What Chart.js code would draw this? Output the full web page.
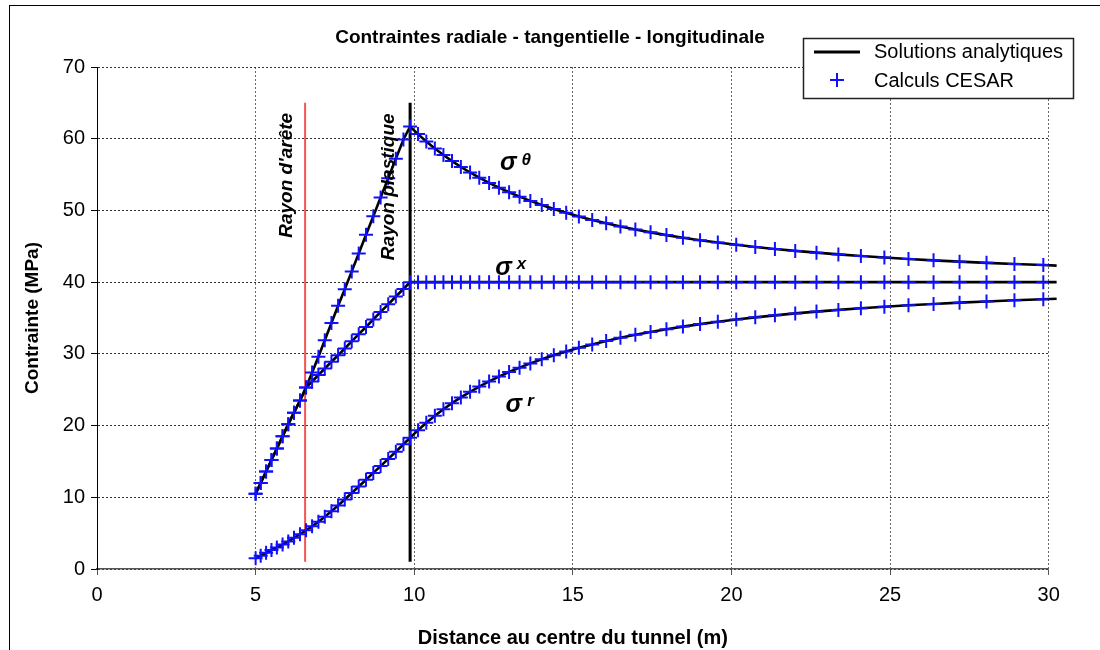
<!DOCTYPE html>
<html lang="fr">
<head>
<meta charset="utf-8">
<title>Contraintes radiale - tangentielle - longitudinale</title>
<script src="https://cdn.jsdelivr.net/npm/chart.js@4.4.1/dist/chart.umd.min.js"></script>
<style>
  html, body { margin: 0; padding: 0; background: #fff; }
  canvas { display: block; }
</style>
</head>
<body>
<canvas id="stressChart" width="1100" height="650"></canvas>
<script>
const FONT = "'Liberation Sans', Arial, sans-serif";

const CHART_TITLE = "Contraintes radiale - tangentielle - longitudinale";
const X_TITLE = "Distance au centre du tunnel (m)";
const Y_TITLE = "Contrainte (MPa)";
const LEGEND_LABELS = ["Solutions analytiques", "Calculs CESAR"];

// distance au centre (m) of the CESAR result points
const distance = [
  5.0, 5.16, 5.33, 5.5, 5.67, 5.85, 6.03, 6.21, 6.4, 6.59, 6.78, 6.98, 7.18,
  7.39, 7.6, 7.81, 8.03, 8.25, 8.48, 8.71, 8.94, 9.18, 9.42, 9.66, 9.87,
  10.12, 10.38, 10.65, 10.92, 11.19, 11.47, 11.76, 12.05, 12.36, 12.67, 12.99,
  13.32, 13.66, 14.02, 14.4, 14.79, 15.19, 15.61, 16.05, 16.5, 16.97, 17.45,
  17.95, 18.47, 19.01, 19.57, 20.15, 20.75, 21.37, 22.01, 22.68, 23.37, 24.08,
  24.82, 25.58, 26.37, 27.19, 28.04, 28.92, 29.83
];

// radial stress sigma r (MPa)
const sigmaR = [
  1.5, 1.85, 2.25, 2.65, 3.0, 3.4, 3.85, 4.35, 4.85, 5.4, 5.95, 6.6, 7.3,
  8.05, 8.85, 9.7, 10.6, 11.5, 12.45, 13.4, 14.35, 15.35, 16.35, 17.4, 18.3,
  19.36, 20.38, 21.36, 22.27, 23.12, 23.93, 24.71, 25.44, 26.16, 26.83, 27.47,
  28.08, 28.67, 29.25, 29.81, 30.34, 30.84, 31.32, 31.79, 32.24, 32.66, 33.06,
  33.44, 33.8, 34.15, 34.48, 34.79, 35.09, 35.37, 35.64, 35.89, 36.13, 36.35,
  36.57, 36.77, 36.96, 37.14, 37.31, 37.47, 37.62
];

// tangential stress sigma theta (MPa)
const sigmaTheta = [
  10.5, 12.0, 13.6, 15.2, 16.8, 18.5, 20.2, 21.8, 23.5, 25.3, 27.4, 29.6, 31.9,
  34.3, 36.7, 39.0, 41.5, 44.0, 46.6, 49.2, 51.8, 54.5, 57.2, 59.9, 61.7,
  60.64, 59.62, 58.64, 57.73, 56.88, 56.07, 55.29, 54.56, 53.84, 53.17, 52.53,
  51.92, 51.33, 50.75, 50.19, 49.66, 49.16, 48.68, 48.21, 47.76, 47.34, 46.94,
  46.56, 46.2, 45.85, 45.52, 45.21, 44.91, 44.63, 44.36, 44.11, 43.87, 43.65,
  43.43, 43.23, 43.04, 42.86, 42.69, 42.53, 42.38
];

// longitudinal stress sigma x (MPa)
const sigmaX = [
  10.5, 12.0, 13.6, 15.2, 16.8, 18.5, 20.2, 21.8, 23.5, 25.3, 26.15, 27.05, 27.95,
  28.9, 29.8, 30.75, 31.75, 32.75, 33.75, 34.8, 35.85, 36.9, 38.0, 39.05, 40.0,
  40, 40, 40, 40, 40, 40, 40, 40, 40, 40, 40,
  40, 40, 40, 40, 40, 40, 40, 40, 40, 40, 40,
  40, 40, 40, 40, 40, 40, 40, 40, 40, 40, 40,
  40, 40, 40, 40, 40, 40, 40
];

// the analytic curves run a little past the last mesh point
const lineEnd = { distance: 30.25, sigmaR: 37.69, sigmaTheta: 42.31, sigmaX: 40 };

// rayon d'arête and rayon plastique (m), with the span of their marker lines (MPa)
const edgeRadius = 6.56;
const plasticRadius = 9.87;
const radiusSpan = [1, 65];

const xTicks = [0, 5, 10, 15, 20, 25, 30];
const yTicks = [0, 10, 20, 30, 40, 50, 60, 70];

function toPoints(xs, ys) {
  return xs.map((x, i) => ({ x, y: ys[i] }));
}

function analyticLine(values, endValue) {
  return {
    label: LEGEND_LABELS[0],
    data: toPoints([...distance, lineEnd.distance], [...values, endValue]),
    showLine: true,
    borderColor: "#000",
    borderWidth: 2.6,
    pointRadius: 0,
    tension: 0,
    clip: false,
    order: 2
  };
}

function cesarPoints(values) {
  return {
    label: LEGEND_LABELS[1],
    data: toPoints(distance, values),
    showLine: false,
    pointStyle: "cross",
    pointRadius: 7,
    pointBorderWidth: 2,
    pointBorderColor: "#1010ff",
    borderColor: "#1010ff",
    order: 1
  };
}

function radiusLine(x, color, width) {
  return {
    label: "",
    data: radiusSpan.map((y) => ({ x, y })),
    showLine: true,
    borderColor: color,
    borderWidth: width,
    pointRadius: 0,
    order: 3
  };
}

// text drawn on top of the plot: frame, title, legend box and curve names
const annotations = {
  id: "annotations",
  afterDraw(chart) {
    const { ctx } = chart;
    const xs = chart.scales.x;
    const ys = chart.scales.y;
    ctx.save();

    ctx.strokeStyle = "#000";
    ctx.lineWidth = 1;
    ctx.strokeRect(9.5, 5.5, 1200, 700);

    ctx.fillStyle = "#000";
    ctx.textAlign = "center";
    ctx.textBaseline = "middle";
    ctx.font = "bold 19px " + FONT;
    ctx.fillText(CHART_TITLE, 550, 38);

    // vertical radius labels
    ctx.font = "italic bold 19px " + FONT;
    [["Rayon d'arête", 5.99, 54.9], ["Rayon plastique", 9.2, 53.3]].forEach(([text, x, y]) => {
      ctx.save();
      ctx.translate(xs.getPixelForValue(x), ys.getPixelForValue(y));
      ctx.rotate(-Math.PI / 2);
      ctx.fillText(text, 0, 0);
      ctx.restore();
    });

    // curve names
    ctx.textAlign = "left";
    [["\u03c3", "\u03b8", 12.7, 56.6], ["\u03c3", "x", 12.55, 42.0], ["\u03c3", "r", 12.88, 22.9]].forEach(([sigma, sub, x, y]) => {
      const px = xs.getPixelForValue(x);
      const py = ys.getPixelForValue(y);
      ctx.font = "bold italic 25px " + FONT;
      ctx.fillText(sigma, px, py);
      const w = ctx.measureText(sigma).width;
      ctx.font = "bold italic 17px " + FONT;
      ctx.fillText(sub, px + w + 5, py - 3);
    });

    // legend
    const box = { left: 803, top: 38, right: 1073, bottom: 98 };
    ctx.fillStyle = "#fff";
    ctx.fillRect(box.left, box.top, box.right - box.left, box.bottom - box.top);
    ctx.strokeStyle = "#222";
    ctx.lineWidth = 1.5;
    ctx.strokeRect(box.left + 0.5, box.top + 0.5, box.right - box.left, box.bottom - box.top);

    ctx.strokeStyle = "#000";
    ctx.lineWidth = 3;
    ctx.beginPath();
    ctx.moveTo(814, 52);
    ctx.lineTo(860, 52);
    ctx.stroke();

    ctx.strokeStyle = "#1010ff";
    ctx.lineWidth = 2;
    ctx.beginPath();
    ctx.moveTo(830, 80);
    ctx.lineTo(844, 80);
    ctx.moveTo(837, 73);
    ctx.lineTo(837, 87);
    ctx.stroke();

    ctx.fillStyle = "#000";
    ctx.font = "20px " + FONT;
    ctx.textAlign = "left";
    ctx.fillText(LEGEND_LABELS[0], 874, 52);
    ctx.fillText(LEGEND_LABELS[1], 874, 81);

    ctx.restore();
  }
};

new Chart(document.getElementById("stressChart"), {
  type: "scatter",
  data: {
    datasets: [
      cesarPoints(sigmaTheta),
      cesarPoints(sigmaX),
      cesarPoints(sigmaR),
      analyticLine(sigmaTheta, lineEnd.sigmaTheta),
      analyticLine(sigmaX, lineEnd.sigmaX),
      analyticLine(sigmaR, lineEnd.sigmaR),
      radiusLine(edgeRadius, "#f25555", 2),
      radiusLine(plasticRadius, "#000", 3)
    ]
  },
  options: {
    responsive: false,
    animation: false,
    layout: { padding: { top: 67, right: 51.3, bottom: 0, left: 0 } },
    plugins: {
      legend: { display: false },
      tooltip: { enabled: false }
    },
    scales: {
      x: {
        type: "linear",
        min: 0,
        max: 30,
        afterBuildTicks: (scale) => { scale.ticks = xTicks.map((value) => ({ value })); },
        afterFit: (scale) => { scale.height = 81; },
        ticks: { color: "#000", font: { family: FONT, size: 20 }, padding: 8, maxRotation: 0 },
        grid: { color: "#666", lineWidth: 1, tickLength: 6, tickColor: "#555" },
        border: { color: "#555", width: 1.5, dash: [2, 2] },
        title: {
          display: true,
          text: X_TITLE,
          color: "#000",
          font: { family: FONT, size: 20, weight: "bold" },
          padding: { top: 8, bottom: 0 }
        }
      },
      y: {
        type: "linear",
        min: 0,
        max: 70,
        afterBuildTicks: (scale) => { scale.ticks = yTicks.map((value) => ({ value })); },
        afterFit: (scale) => { scale.width = 97; },
        ticks: { color: "#000", font: { family: FONT, size: 20 }, padding: 6 },
        grid: { color: "#333", lineWidth: 1, tickLength: 6, tickColor: "#000" },
        border: { color: "#000", width: 1, dash: [2, 2] },
        title: {
          display: true,
          text: Y_TITLE,
          color: "#000",
          font: { family: FONT, size: 19, weight: "bold" },
          padding: { top: 21, bottom: 0 }
        }
      }
    }
  },
  plugins: [annotations]
});
</script>
</body>
</html>
